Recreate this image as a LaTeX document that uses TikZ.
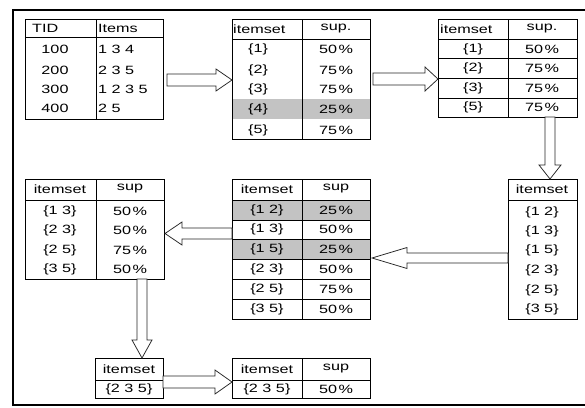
\documentclass[tikz,border=0pt]{standalone}
\usepackage{fontspec}
\setmainfont{Liberation Sans}[FakeStretch=1.35]
\usetikzlibrary{calc}
\definecolor{cellgray}{RGB}{195,195,195}
\tikzset{
  txt/.style={inner sep=0pt, font=\fontsize{12}{14}\selectfont, anchor=center},
  ltxt/.style={txt, anchor=west},
  tframe/.style={draw=black, line width=1pt},
  trule/.style={draw=black, line width=0.75pt},
  barrow/.style={draw=black!85, line width=0.75pt, fill=white},
  cellshade/.style={fill=cellgray},
  outerframe/.style={draw=black, line width=2pt},
}
% horizontal block arrow: start, tip, shaft half width, head half width, head length
\newcommand\harrow[5]{\draw[barrow] let \p1=(#1), \p2=(#2), \p3=($(#2)!#5!(#1)$) in
  (\x1,\y1+#3) -- (\x3,\y1+#3) -- (\x3,\y1+#4) -- (\x2,\y2) -- (\x3,\y1-#4) -- (\x3,\y1-#3) -- (\x1,\y1-#3) -- cycle;}
% vertical block arrow
\newcommand\varrow[5]{\draw[barrow] let \p1=(#1), \p2=(#2), \p3=($(#2)!#5!(#1)$) in
  (\x1-#3,\y1) -- (\x1-#3,\y3) -- (\x1-#4,\y3) -- (\x2,\y2) -- (\x1+#4,\y3) -- (\x1+#3,\y3) -- (\x1+#3,\y1) -- cycle;}
\newcommand\pct[1]{#1\kern1.5pt\%}
\begin{document}
\begin{tikzpicture}[x=1pt,y=-1pt]
\useasboundingbox (0,0) rectangle (585,407);
\fill[white] (0,0) rectangle (585,407);
% outer frame
\draw[outerframe] (585,10) -- (13,10) -- (13,405) -- (585,405);

% ---------- shading ----------
\fill[cellshade] (232,99) rectangle (370,119);
\fill[cellshade] (232,200) rectangle (370,220);
\fill[cellshade] (232,239) rectangle (370,259);

% ---------- Table 1 ----------
\draw[tframe] (25,19) rectangle (163,119);
\draw[trule] (25,37.5) -- (163,37.5);
\draw[trule] (96,19) -- (96,119);
\node[ltxt] (t1h1) at (32,28) {TID};
\node[ltxt] (t1h2) at (98,28) {Items};
\node[txt] (t1a1) at (55,49) {100};
\node[txt] (t1a2) at (55,70) {200};
\node[txt] (t1a3) at (55,89) {300};
\node[txt] (t1a4) at (55,108) {400};
\node[ltxt] (t1b1) at (98,49) {1 3 4};
\node[ltxt] (t1b2) at (98,70) {2 3 5};
\node[ltxt] (t1b3) at (98,89) {1 2 3 5};
\node[ltxt] (t1b4) at (98,108) {2 5};

% ---------- Table 2 ----------
\draw[tframe] (232,19) rectangle (370,139);
\draw[trule] (232,39) -- (370,39);
\draw[trule] (302,19) -- (302,139);
\node[ltxt] (t2h1) at (233,29) {itemset};
\node[txt] (t2h2) at (336,29) {sup.};
\node[txt] (t2a1) at (258,49) {\{1\}};
\node[txt] (t2a2) at (258,70) {\{2\}};
\node[txt] (t2a3) at (258,89) {\{3\}};
\node[txt] (t2a4) at (258,109) {\{4\}};
\node[txt] (t2a5) at (258,130) {\{5\}};
\node[txt] (t2b1) at (336,49) {\pct{50}};
\node[txt] (t2b2) at (336,70) {\pct{75}};
\node[txt] (t2b3) at (336,89) {\pct{75}};
\node[txt] (t2b4) at (336,109) {\pct{25}};
\node[txt] (t2b5) at (336,130) {\pct{75}};

% ---------- Table 3 ----------
\draw[tframe] (438,19) rectangle (577,117);
\foreach \yy in {39,58,78,98} \draw[trule] (438,\yy) -- (577,\yy);
\draw[trule] (508,19) -- (508,117);
\node[ltxt] (t3h1) at (440,29) {itemset};
\node[txt] (t3h2) at (542,29) {sup.};
\node[txt] (t3a1) at (473,49) {\{1\}};
\node[txt] (t3a2) at (473,68) {\{2\}};
\node[txt] (t3a3) at (473,88) {\{3\}};
\node[txt] (t3a4) at (473,107) {\{5\}};
\node[txt] (t3b1) at (542,49) {\pct{50}};
\node[txt] (t3b2) at (542,68) {\pct{75}};
\node[txt] (t3b3) at (542,88) {\pct{75}};
\node[txt] (t3b4) at (542,107) {\pct{75}};

% ---------- Table 4 ----------
\draw[tframe] (508,179) rectangle (577,319);
\draw[trule] (508,200) -- (577,200);
\node[txt] (t4h) at (542,189) {itemset};
\node[txt] (t4a1) at (542,212) {\{1 2\}};
\node[txt] (t4a2) at (542,231) {\{1 3\}};
\node[txt] (t4a3) at (542,250) {\{1 5\}};
\node[txt] (t4a4) at (542,270) {\{2 3\}};
\node[txt] (t4a5) at (542,290) {\{2 5\}};
\node[txt] (t4a6) at (542,309) {\{3 5\}};

% ---------- Table 5 ----------
\draw[tframe] (232,179) rectangle (370,319);
\foreach \yy in {200,220,239,259,279,299} \draw[trule] (232,\yy) -- (370,\yy);
\draw[trule] (302,179) -- (302,319);
\node[txt] (t5h1) at (267,189) {itemset};
\node[txt] (t5h2) at (336,189) {sup};
\node[txt] (t5a1) at (267,210) {\{1 2\}};
\node[txt] (t5a2) at (267,229.5) {\{1 3\}};
\node[txt] (t5a3) at (267,249) {\{1 5\}};
\node[txt] (t5a4) at (267,269) {\{2 3\}};
\node[txt] (t5a5) at (267,289) {\{2 5\}};
\node[txt] (t5a6) at (267,309) {\{3 5\}};
\node[txt] (t5b1) at (336,210) {\pct{25}};
\node[txt] (t5b2) at (336,229.5) {\pct{50}};
\node[txt] (t5b3) at (336,249) {\pct{25}};
\node[txt] (t5b4) at (336,269) {\pct{50}};
\node[txt] (t5b5) at (336,289) {\pct{75}};
\node[txt] (t5b6) at (336,309) {\pct{50}};

% ---------- Table 6 ----------
\draw[tframe] (25,179) rectangle (164,279);
\draw[trule] (25,200) -- (164,200);
\draw[trule] (96,179) -- (96,279);
\node[txt] (t6h1) at (60,189) {itemset};
\node[txt] (t6h2) at (130,189) {sup};
\node[txt] (t6a1) at (60,211) {\{1 3\}};
\node[txt] (t6a2) at (60,230) {\{2 3\}};
\node[txt] (t6a3) at (60,250) {\{2 5\}};
\node[txt] (t6a4) at (60,269) {\{3 5\}};
\node[txt] (t6b1) at (130,211) {\pct{50}};
\node[txt] (t6b2) at (130,230) {\pct{50}};
\node[txt] (t6b3) at (130,250) {\pct{75}};
\node[txt] (t6b4) at (130,269) {\pct{50}};

% ---------- Table 7 ----------
\draw[tframe] (95,358) rectangle (163,398);
\draw[trule] (95,380) -- (163,380);
\node[txt] (t7h) at (129,369) {itemset};
\node[txt] (t7a) at (129,389) {\{2 3 5\}};

% ---------- Table 8 ----------
\draw[tframe] (232,358) rectangle (370,398);
\draw[trule] (232,380) -- (370,380);
\draw[trule] (302,358) -- (302,398);
\node[txt] (t8h1) at (267,369) {itemset};
\node[txt] (t8h2) at (336,369) {sup};
\node[txt] (t8a) at (267,389) {\{2 3 5\}};
\node[txt] (t8b) at (336,389) {\pct{50}};

% ---------- block arrows ----------
\coordinate (a1s) at (167,80);  \coordinate (a1t) at (232,80);
\coordinate (a2s) at (373,79);  \coordinate (a2t) at (438,79);
\coordinate (a3s) at (550,117); \coordinate (a3t) at (550,179);
\coordinate (a4s) at (508,258); \coordinate (a4t) at (372,258);
\coordinate (a5s) at (232,233.5); \coordinate (a5t) at (165,233.5);
\coordinate (a6s) at (142,279); \coordinate (a6t) at (142,358);
\coordinate (a7s) at (163,382); \coordinate (a7t) at (232,382);
\harrow{a1s}{a1t}{6pt}{11pt}{16pt}
\harrow{a2s}{a2t}{6pt}{12pt}{13pt}
\varrow{a3s}{a3t}{5pt}{11pt}{14pt}
\harrow{a4s}{a4t}{5pt}{10.5pt}{35pt}
\harrow{a5s}{a5t}{5.5pt}{11.5pt}{17pt}
\varrow{a6s}{a6t}{5pt}{10pt}{18pt}
\harrow{a7s}{a7t}{6pt}{12pt}{17pt}
\end{tikzpicture}
\end{document}
